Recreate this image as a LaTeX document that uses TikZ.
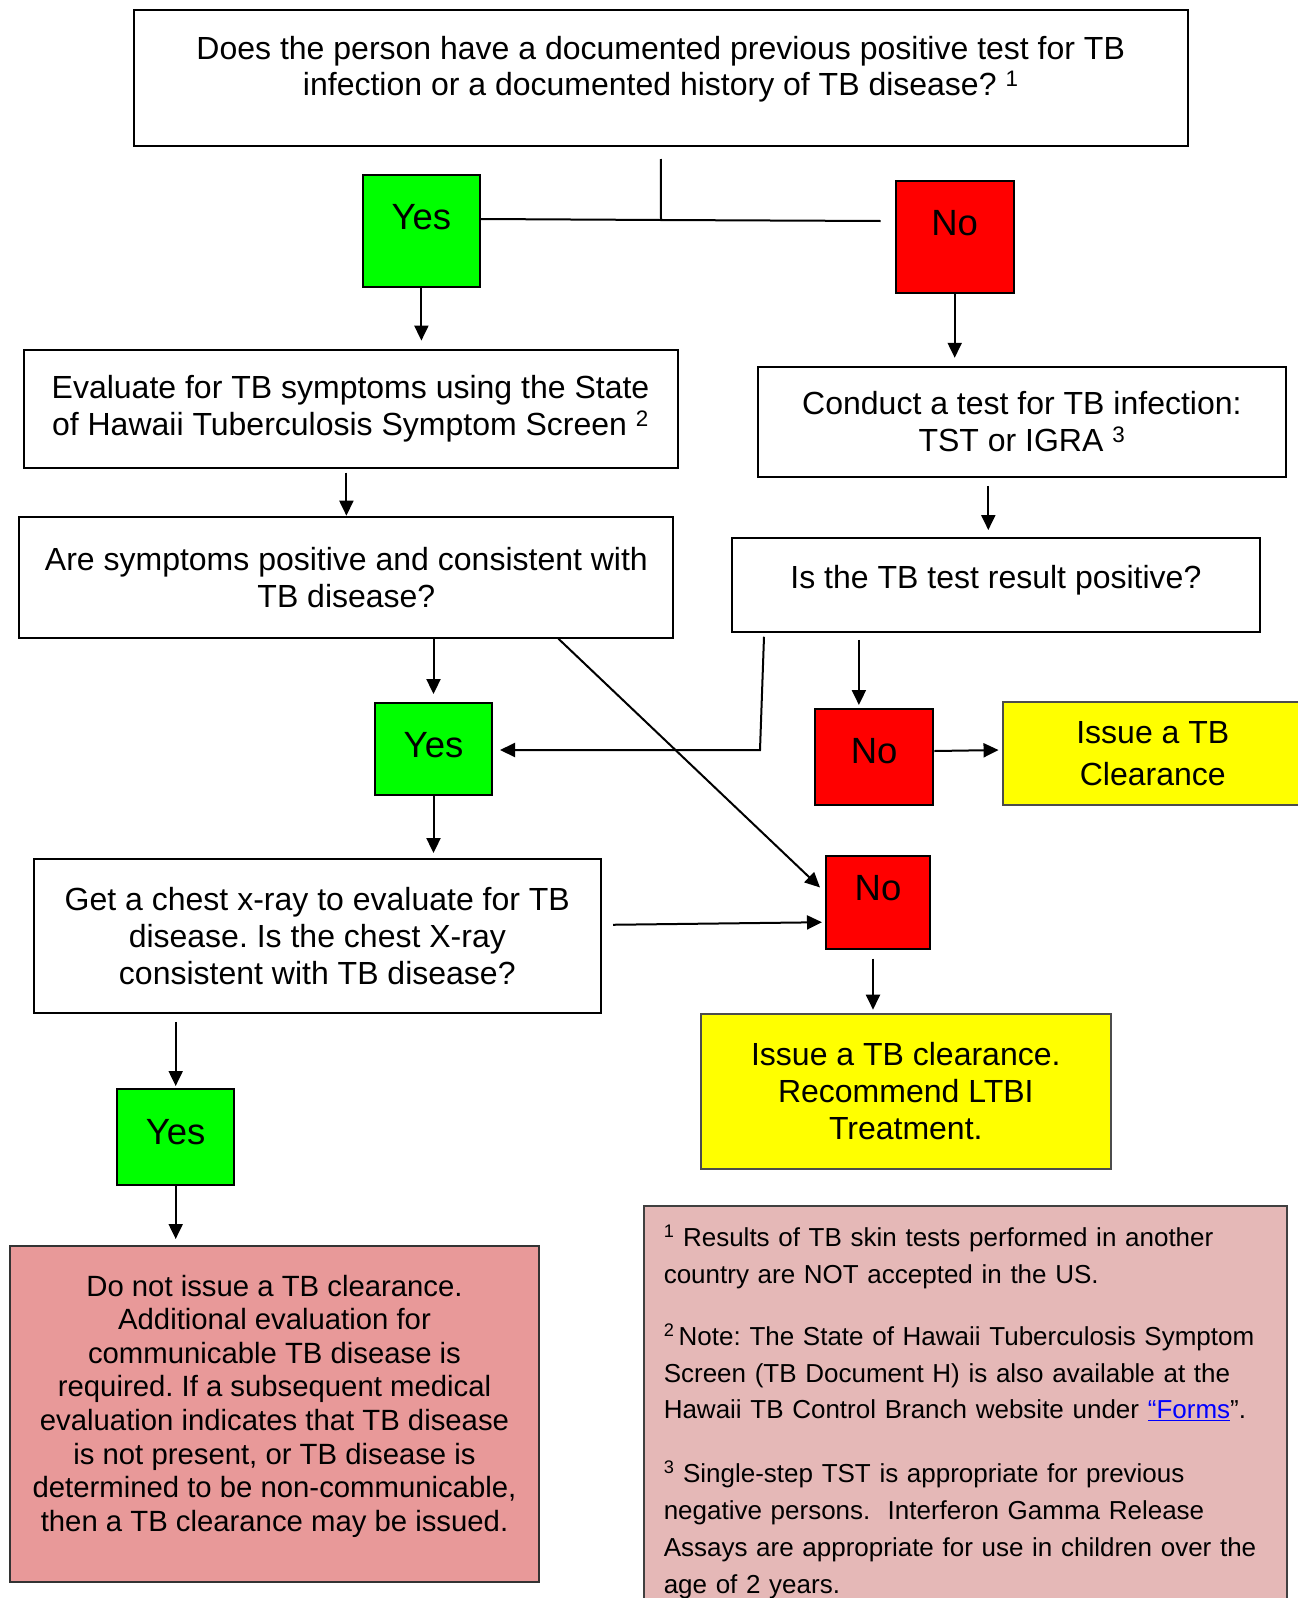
\documentclass[tikz,border=0pt]{standalone}
\usepackage{fontspec}
\setmainfont{Liberation Sans}
\usetikzlibrary{arrows.meta}

\definecolor{yesgreen}{HTML}{00FF00}
\definecolor{nored}{HTML}{FF0000}
\definecolor{issueyellow}{HTML}{FFFF00}
\definecolor{stoppink}{HTML}{E89999}
\definecolor{notepink}{HTML}{E5B8B7}

\begin{document}
\frenchspacing
\begin{tikzpicture}[
    x=1pt, y=-1pt,
    question/.style={rectangle, draw=black, line width=2pt, fill=white, align=center, inner sep=2pt, font=\fontsize{32}{36.8}\selectfont},
    yesbox/.style={rectangle, draw=black, line width=2pt, fill=yesgreen, inner sep=0pt, font=\fontsize{36.5}{40}\selectfont},
    nobox/.style={yesbox, fill=nored},
    issue/.style={question, fill=issueyellow, draw=black!70},
    stopbox/.style={question, fill=stoppink, draw=black!80, font=\fontsize{29.3}{33.6}\selectfont},
    note/.style={rectangle, draw=black!75, line width=1.5pt, fill=notepink, align=left, inner xsep=20pt, inner ysep=19.6pt, text width=603pt, font=\fontsize{26}{36.7}\selectfont},
    arr/.style={line width=2pt, -{Triangle[length=15pt,width=14pt]}},
    link/.style={line width=2pt}
    ]
    \useasboundingbox (0,0) rectangle (1298,1598);

    \node (q1) [question, minimum width=1054.5pt, minimum height=136pt, text depth=24pt] at (660.75,78) {Does the person have a documented previous positive test for TB\\infection or a documented history of TB disease? \textsuperscript{1}};
    \node (y1) [yesbox, minimum width=117.3pt, minimum height=112pt, text depth=28pt] at (421.4,231) {Yes};
    \node (n1) [nobox, minimum width=118pt, minimum height=112pt, text depth=28pt] at (954.7,237) {No};
    \node (es) [question, minimum width=654pt, minimum height=118pt] at (350.5,408.6) {Evaluate for TB symptoms using the State\\of Hawaii Tuberculosis Symptom Screen \textsuperscript{2}};
    \node (ct) [question, minimum width=527.8pt, minimum height=110pt] at (1021.9,421.8) {Conduct a test for TB infection:\\TST or IGRA \textsuperscript{3}};
    \node (sp) [question, minimum width=654pt, minimum height=121pt] at (346.4,577.2) {Are symptoms positive and consistent with\\TB disease?};
    \node (tp) [question, minimum width=528.8pt, minimum height=93.7pt, text depth=16pt] at (995.9,584.9) {Is the TB test result positive?};
    \node (y2) [yesbox, minimum width=117pt, minimum height=91.7pt, text depth=8pt] at (433.5,748.9) {Yes};
    \node (n2) [nobox, minimum width=118.3pt, minimum height=96pt, text depth=12pt] at (874.2,757) {No};
    \node (cl) [issue, minimum width=300.5pt, minimum height=103pt, font=\fontsize{32}{41.8}\selectfont] at (1152.8,753.5) {Issue a TB\\Clearance};
    \node (n3) [nobox, minimum width=104pt, minimum height=92.7pt, text depth=28pt] at (878,902.2) {No};
    \node (cx) [question, minimum width=567.4pt, minimum height=153.7pt] at (317.3,935.9) {Get a chest x-ray to evaluate for TB\\disease. Is the chest X-ray\\consistent with TB disease?};
    \node (rl) [issue, minimum width=409.5pt, minimum height=155pt] at (905.8,1091.2) {Issue a TB clearance.\\Recommend LTBI\\Treatment.};
    \node (y3) [yesbox, minimum width=117.3pt, minimum height=96pt, text depth=10pt] at (175.7,1137) {Yes};
    \node (dn) [stopbox, minimum width=529pt, minimum height=336pt, text depth=22pt] at (274.5,1414) {Do not issue a TB clearance.\\Additional evaluation for\\communicable TB disease is\\required. If a subsequent medical\\evaluation indicates that TB disease\\is not present, or TB disease is\\determined to be non-communicable,\\then a TB clearance may be issued.};
    \node (fn) [note, anchor=north west] at (643,1205) {\mbox{\textsuperscript{1} Results of TB skin tests performed in another}\\
      country are NOT accepted in the US.\\[25pt]
      \mbox{\textsuperscript{2}\,Note: The State of Hawaii Tuberculosis Symptom}\\
      Screen (TB Document H) is also available at the\\
      Hawaii TB Control Branch website under \textcolor{blue}{\underline{“Forms}}”.\\[27.5pt]
      \textsuperscript{3} Single-step TST is appropriate for previous\\
      negative persons.~ Interferon Gamma Release\\
      \mbox{Assays are appropriate for use in children over the}\\
      age of 2 years.};

    % split below the first question
    \coordinate (split) at (661,220);
    \coordinate (nend) at (880.6,221);
    \coordinate (bend) at (760,750);
    \draw[link] ([yshift=-12pt]q1.south) -- (split);
    \draw[link] ([yshift=12pt]y1.east) -- (split) -- (nend);

    \draw[arr, shorten >=8pt] (y1) -- (y1 |- es.north);
    \draw[arr, shorten >=8pt] (n1) -- (n1 |- ct.north);
    \draw[arr, shorten <=4pt] (sp.north |- es.south) -- (sp.north);
    \draw[arr, shorten <=8pt, shorten >=7pt] ([xshift=-7.6pt]tp.north |- ct.south) -- ([xshift=-7.6pt]tp.north);
    \draw[arr, shorten >=8pt] (y2 |- sp.south) -- (y2.north);
    \draw[arr, shorten >=7pt] ([xshift=33.5pt,yshift=-4pt]tp.south west) -- (bend) -- (y2.east |- bend);
    \draw[arr, shorten <=7pt, shorten >=3pt] ([xshift=-15.3pt]n2.north |- tp.south) -- ([xshift=-15.3pt]n2.north);
    \draw[arr, shorten >=3pt] ([yshift=6pt]n2.east) -- ([yshift=3.5pt]cl.west);
    \draw[arr] ([xshift=212pt]sp.south) -- ([xshift=-5pt,yshift=-32.6pt]n3.north west);
    \draw[arr, shorten >=5pt] (y2) -- (y2 |- cx.north);
    \draw[arr, shorten <=11pt, shorten >=3pt] ([yshift=11pt]cx.east) -- ([yshift=-20pt]n3.west);
    \draw[arr, shorten <=9pt, shorten >=3pt] ([xshift=-5pt]n3.south) -- ([xshift=-5pt]n3.south |- rl.north);
    \draw[arr, shorten <=8pt, shorten >=2pt] (y3 |- cx.south) -- (y3.north);
    \draw[arr, shorten >=6pt] (y3) -- (y3 |- dn.north);
  \end{tikzpicture}
\end{document}
